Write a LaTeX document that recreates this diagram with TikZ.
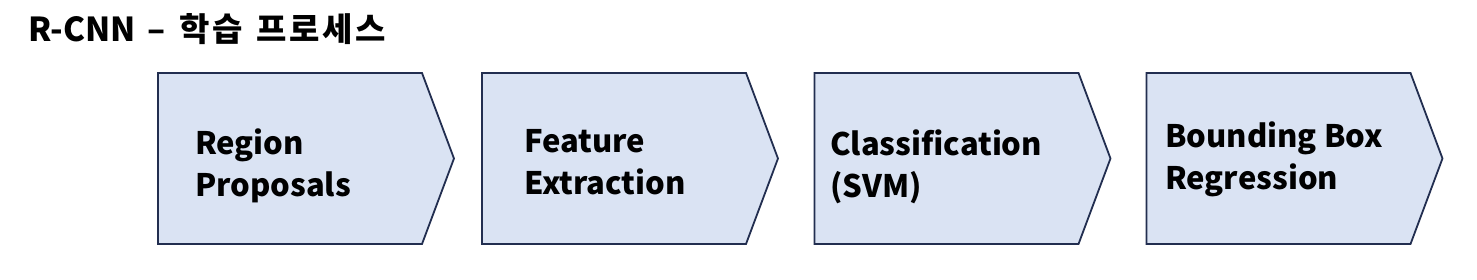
\documentclass[tikz,border=0pt]{standalone}
\usepackage{fontspec}
\setmainfont{Noto Sans CJK KR}
\newfontfamily\krwide{Noto Sans CJK KR}[LetterSpace=8]
\usetikzlibrary{shapes.symbols, positioning}
\definecolor{stepfill}{HTML}{DAE3F3}
\definecolor{stepline}{HTML}{222E50}
\tikzset{
    stage/.style={draw=stepline, fill=stepfill, line width=1.8pt, shape=signal, signal to=east, signal pointer angle=139, minimum width=296pt, minimum height=171pt, inner sep=0pt},
    label/.style={anchor=base west, align=left, inner sep=0pt, font=\fontsize{31}{42}\selectfont\bfseries},
    title/.style={anchor=base west, inner sep=0pt, font=\fontsize{33}{40}\selectfont\bfseries}
}

\begin{document}
\begin{tikzpicture}[x=1pt, y=1pt]
    \useasboundingbox (0,0) rectangle (1477,280);
    \node [title] (head) at (28,238) {R-CNN\hspace{12pt}--\hspace{14pt}{\krwide 학습\hspace{14pt}프로세스}};

    % four stages
    \node [stage] (rp) at (290,121.5) {};
    \node [stage] (fe) at (614,121.5) {};
    \node [stage] (cl) at (946.5,121.5) {};
    \node [stage] (bb) at (1278.5,121.5) {};

    \node [label] (rptext) at (195,83) {Region\\Proposals};
    \node [label] (fetext) at (524,85) {Feature\\Extraction};
    \node [label] (cltext) at (830,82) {Classification\\(SVM)};
    \node [label] (bbtext) at (1165,90) {Bounding Box\\Regression};
\end{tikzpicture}
\end{document}
